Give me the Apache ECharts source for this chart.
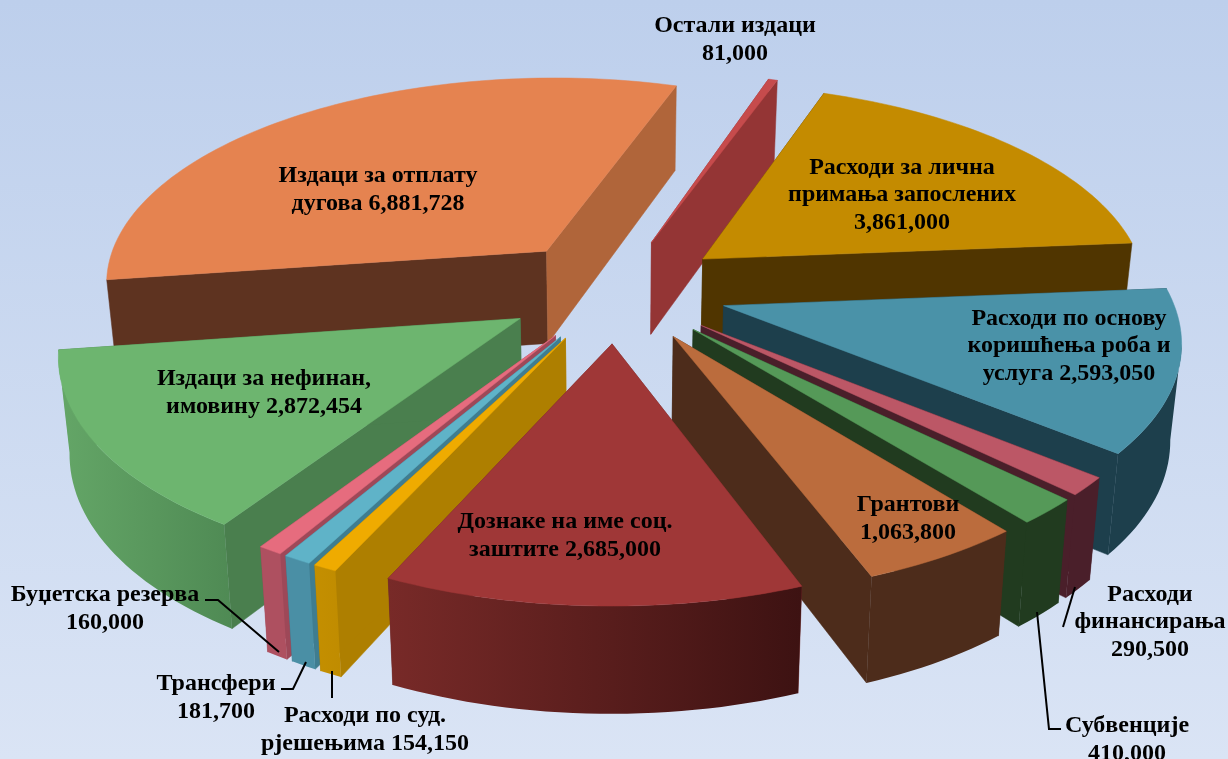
<!DOCTYPE html>
<html>
<head>
<meta charset="utf-8">
<title>Pie</title>
<script src="https://cdn.jsdelivr.net/npm/echarts@6/dist/echarts.min.js"></script>
<style>
  html, body { margin: 0; padding: 0; }
  #chart { width: 1228px; height: 759px; }
</style>
</head>
<body>
<div id="chart"></div>
<script>
// clockwise from the first slice
const values = [81000, 3861000, 2593050, 290500, 410000, 1063800, 2685000, 154150, 181700, 160000, 2872454, 6881728];
const labelTexts = [
  "Остали издаци\n{v}",
  "Расходи за лична\nпримања запослених\n{v}",
  "Расходи по основу\nкоришћења роба и\nуслуга {v}",
  "Расходи\nфинансирања\n{v}",
  "Субвенције\n{v}",
  "Грантови\n{v}",
  "Дознаке на име соц.\nзаштите {v}",
  "Расходи по суд.\nрјешењима {v}",
  "Трансфери\n{v}",
  "Буџетска резерва\n{v}",
  "Издаци за нефинан,\nимовину {v}",
  "Издаци за отплату\nдугова {v}"
];

// styles, same order as values
const topColors = ["#C64B4C", "#C48B00", "#4A92A8", "#BC5766", "#559958", "#BB6C3D", "#9F3737", "#EFAB00", "#5FB3C8", "#E66C7E", "#6DB56F", "#E58350"];
const startWallColors = ["#943535", "#503500", "#1D3F4C", "#4A1F2A", "#213B1F", "#4D2C1B", "#6E2725", "#AE7F00", "#3F7D90", "#9E4858", "#4A7F4E", "#5E3320"];
const endWallColors = ["#943535", "#503500", "#1D3F4C", "#4A1F2A", "#213B1F", "#4D2C1B", "#6E2725", "#AE7F00", "#3F7D90", "#9E4858", "#4A7F4E", "#B0653A"];
const arcColors = [
  ["#943535", "#943535"], ["#503500", "#503500"], ["#1D3F4C", "#1D3F4C"], ["#4A1F2A", "#4A1F2A"],
  ["#213B1F", "#213B1F"], ["#4D2C1B", "#4D2C1B"], ["#782A28", "#3D1212"], ["#C48F00", "#C08C00"],
  ["#4A8FA5", "#4A8FA5"], ["#AE5060", "#AE5060"], ["#64A667", "#4F8A54"], ["#5E3320", "#5E3320"]
];

// label centres in pixels
const labelAnchors = [
  [735, 40], [902, 195], [1069, 346], [1150, 622], [1127, 740], [908, 519],
  [565, 536], [365, 730], [216, 698], [105, 609], [264, 393], [378, 190]
];
// leader lines of the small slices
const leaders = [
  null, null, null,
  [[1063, 627], [1075, 587]],
  [[1037, 612], [1049, 729], [1061, 729]],
  null, null,
  [[332, 671], [332, 698]],
  [[281, 689], [293, 689], [306, 662]],
  [[205, 600], [218, 600], [279, 652]],
  null, null
];

// projection settings, fitted to the picture
const startAngle = 18.5;  // degrees clockwise from the back of the pie
const explode = 0.25;   // in radii
const centerX = 616;
const centerY = 290;
const scaleX = 446;
const scaleY = 208;
const perspective = 0.142;
const thickness = 94;
const bottomShrink = 0.98;

const total = values.reduce((a, b) => a + b, 0);
const slices = [];
let acc = startAngle;
values.forEach((v) => {
  const span = (v / total) * 360;
  slices.push({ start: acc, end: acc + span, mid: acc + span / 2 });
  acc += span;
});

const rad = (d) => (d * Math.PI) / 180;

// x to the right, v towards the viewer; returns the top and bottom screen points
const project = (x, v) => {
  const p = 1 / (1 - perspective * v);
  const sx = centerX + scaleX * x * p;
  const sy = centerY + scaleY * v * p;
  return {
    top: [sx, sy],
    bottom: [centerX + (sx - centerX) * bottomShrink, sy + thickness * Math.pow(p, 0.7)]
  };
};

const slicePoint = (slice, angle, r) => {
  const x = explode * Math.sin(rad(slice.mid)) + r * Math.sin(rad(angle));
  const v = -explode * Math.cos(rad(slice.mid)) - r * Math.cos(rad(angle));
  return project(x, v);
};

// far slices get painted first
const order = slices.map((s, i) => ({ i, depth: -Math.cos(rad(s.mid)) })).sort((a, b) => a.depth - b.depth);
const rank = [];
order.forEach((o, r) => { rank[o.i] = r; });

const face = (points, fill, z2) => ({
  type: "polygon",
  shape: { points },
  style: { fill, stroke: typeof fill === "string" ? fill : null, lineWidth: 0.5 },
  z2
});

const renderSlice = (params) => {
  const i = params.dataIndex;
  const slice = slices[i];
  const base = (rank[i] + 1) * 10;
  const apex = slicePoint(slice, 0, 0);

  const rim = [];
  const steps = Math.max(2, Math.ceil((slice.end - slice.start) / 1.5));
  for (let k = 0; k <= steps; k++) {
    rim.push(slicePoint(slice, slice.start + ((slice.end - slice.start) * k) / steps, 1));
  }
  const first = rim[0];
  const last = rim[rim.length - 1];

  const children = [
    face([apex.top, first.top, first.bottom, apex.bottom], startWallColors[i], base),
    face([apex.top, last.top, last.bottom, apex.bottom], endWallColors[i], base + 1)
  ];

  // outer wall: only the part that faces the viewer (x falls while going clockwise)
  const front = [];
  for (let k = 0; k < rim.length - 1; k++) {
    if (rim[k + 1].top[0] < rim[k].top[0]) {
      if (!front.length) front.push(rim[k]);
      front.push(rim[k + 1]);
    }
  }
  if (front.length) {
    const pts = front.map((p) => p.top).concat(front.map((p) => p.bottom).reverse());
    const fill = new echarts.graphic.LinearGradient(0, 0, 1, 0, [
      { offset: 0, color: arcColors[i][0] },
      { offset: 1, color: arcColors[i][1] }
    ]);
    children.push(face(pts, fill, base + 2));
  }

  children.push(face([apex.top].concat(rim.map((p) => p.top)), topColors[i], base + 3));

  if (leaders[i]) {
    children.push({
      type: "polyline",
      shape: { points: leaders[i] },
      style: { stroke: "#000", fill: null, lineWidth: 2 },
      z2: 900
    });
  }

  children.push({
    type: "text",
    style: {
      text: labelTexts[i].replace("{v}", values[i].toLocaleString("en-US")),
      x: labelAnchors[i][0],
      y: labelAnchors[i][1],
      font: 'bold 24px "Liberation Serif", serif',
      fill: "#000",
      align: "center",
      verticalAlign: "middle",
      lineHeight: 27.5
    },
    z2: 1000
  });

  return { type: "group", children };
};

const chart = echarts.init(document.getElementById("chart"));
chart.setOption({
  animation: false,
  backgroundColor: new echarts.graphic.LinearGradient(0, 0, 0, 1, [
    { offset: 0, color: "#BDCFEC" },
    { offset: 1, color: "#DAE4F5" }
  ]),
  series: [
    {
      type: "custom",
      coordinateSystem: "none",
      renderItem: renderSlice,
      data: values
    }
  ]
});
</script>
</body>
</html>
